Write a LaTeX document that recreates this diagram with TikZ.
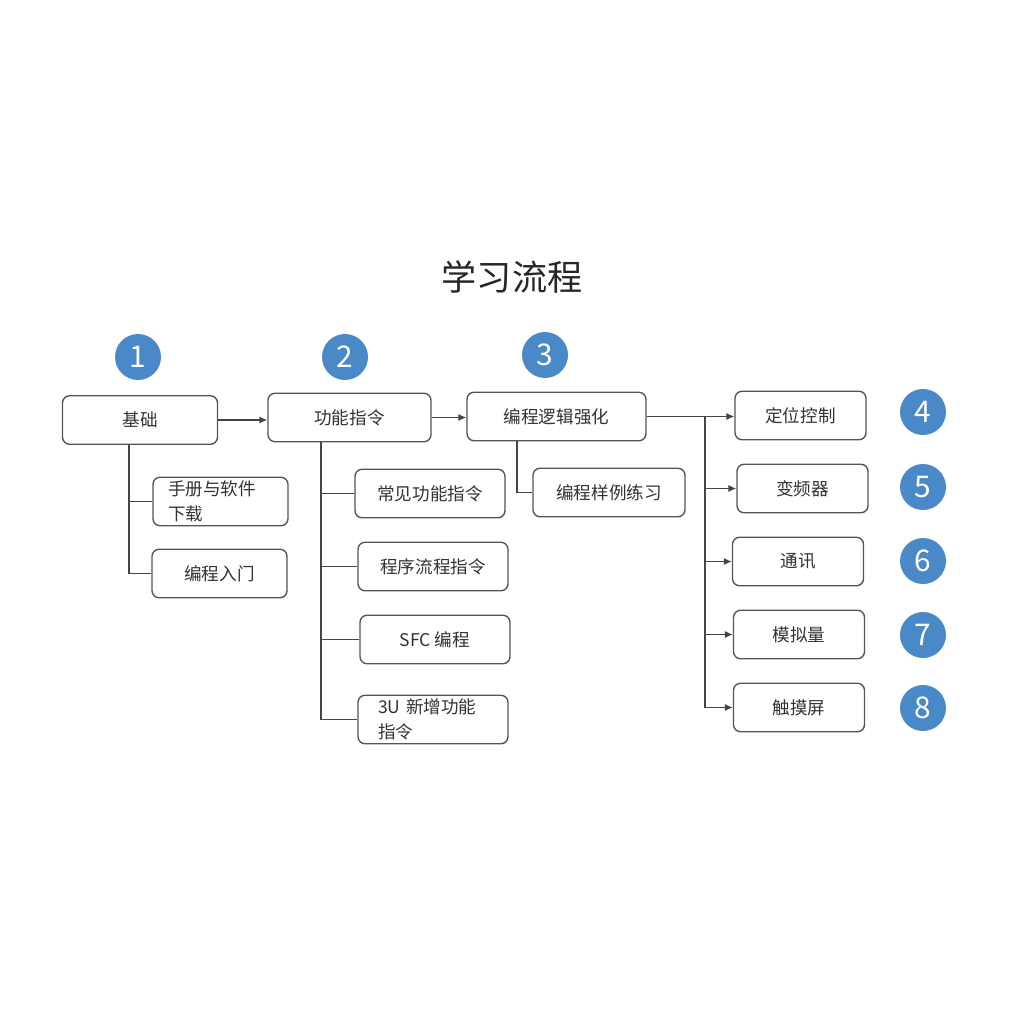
\documentclass[tikz,border=0pt]{standalone}
\usepackage{fontspec}
\newfontfamily\cjk{Noto Sans CJK SC}
\usetikzlibrary{arrows.meta}

\definecolor{numblue}{RGB}{74,137,200}
\definecolor{boxgray}{RGB}{85,85,85}
\definecolor{txtgray}{RGB}{50,50,50}

\begin{document}
\begin{tikzpicture}[x=0.02cm, y=-0.02cm,
    box/.style={draw=boxgray, rounded corners=4pt, line width=0.8pt,
                minimum height=0.97cm, inner sep=2pt, font=\cjk\fontsize{10}{14}\selectfont,
                text=txtgray},
    twoline/.style={box, align=left, text width=#1, inner sep=0pt},
    num/.style={circle, fill=numblue, minimum size=0.92cm, inner sep=0pt,
                text=white, font=\cjk\fontsize{17}{17}\selectfont},
    link/.style={draw=boxgray!80!black, line width=0.7pt},
    arrow/.style={link, -{Latex[length=4.5pt,width=4pt]}}]

    % --- Page ---
    \useasboundingbox (0,0) rectangle (1024,1024);

    % --- Title ---
    \node[font=\cjk\fontsize{20}{20}\selectfont, text=black!85] (title) at (512,277) {学习流程};

    % --- Step numbers ---
    \node[num] (n1) at (138,357) {1};
    \node[num] (n2) at (345,357) {2};
    \node[num] (n3) at (545,355) {3};
    \node[num] (n4) at (923,412) {4};
    \node[num] (n5) at (923,487) {5};
    \node[num] (n6) at (923,561) {6};
    \node[num] (n7) at (923,635) {7};
    \node[num] (n8) at (923,708) {8};

    % --- Main row ---
    \node[box, minimum width=3.1cm]  (jichu)   at (140,420)   {基础};
    \node[box, minimum width=3.26cm] (gongneng) at (349.5,417.5) {功能指令};
    \node[box, minimum width=3.58cm] (luoji)   at (556.5,416.5) {编程逻辑强化};

    % --- Branches of step 1 ---
    \node[twoline=2.1cm, minimum width=2.7cm] (shouce) at (220.5,501.5) {手册与软件\\下载};
    \node[box, minimum width=2.7cm] (rumen) at (219.5,573.5) {编程入门};

    % --- Branches of step 2 ---
    \node[box, minimum width=3cm] (changjian) at (430,493.5) {常见功能指令};
    \node[box, minimum width=3cm] (chengxu)   at (433,566.5) {程序流程指令};
    \node[box, minimum width=3cm] (sfc)       at (435,639.5) {SFC 编程};
    \node[twoline=2.2cm, minimum width=3cm] (xinzeng) at (433,719.5) {3U 新增功能\\指令};

    % --- Branch of step 3 ---
    \node[box, minimum width=3.04cm] (yangli) at (609,492.5) {编程样例练习};

    % --- Right column ---
    \node[box, minimum width=2.62cm] (dingwei) at (800.5,415.5) {定位控制};
    \node[box, minimum width=2.62cm] (bianpin) at (802.5,488.5) {变频器};
    \node[box, minimum width=2.62cm] (tongxun) at (798,561.5)   {通讯};
    \node[box, minimum width=2.62cm] (moni)    at (799,634.5)   {模拟量};
    \node[box, minimum width=2.62cm] (chumo)   at (799,707.5)   {触摸屏};

    % --- Trunk positions ---
    \coordinate (t1) at (129,0);
    \coordinate (t2) at (321,0);
    \coordinate (t3) at (517,0);
    \coordinate (t4) at (705,0);

    % --- Main arrows ---
    \draw[arrow] (jichu.east) -- (jichu.east -| gongneng.west);
    \draw[arrow] (gongneng.east) -- (gongneng.east -| luoji.west);
    \draw[arrow] (luoji.east) -- (luoji.east -| dingwei.west);

    % --- Tree of step 1 ---
    \draw[link] (jichu.south -| t1) |- (shouce.west);
    \draw[link] (jichu.south -| t1) |- (rumen.west);

    % --- Tree of step 2 ---
    \draw[link] (gongneng.south -| t2) |- (xinzeng.west);
    \draw[link] (changjian.west -| t2) -- (changjian.west);
    \draw[link] (chengxu.west -| t2) -- (chengxu.west);
    \draw[link] (sfc.west -| t2) -- (sfc.west);

    % --- Tree of step 3 ---
    \draw[link] (luoji.south -| t3) |- (yangli.west);

    % --- Right fan-out ---
    \draw[link] (luoji.east -| t4) -- (chumo.west -| t4);
    \draw[arrow] (bianpin.west -| t4) -- (bianpin.west);
    \draw[arrow] (tongxun.west -| t4) -- (tongxun.west);
    \draw[arrow] (moni.west -| t4) -- (moni.west);
    \draw[arrow] (chumo.west -| t4) -- (chumo.west);

\end{tikzpicture}
\end{document}
